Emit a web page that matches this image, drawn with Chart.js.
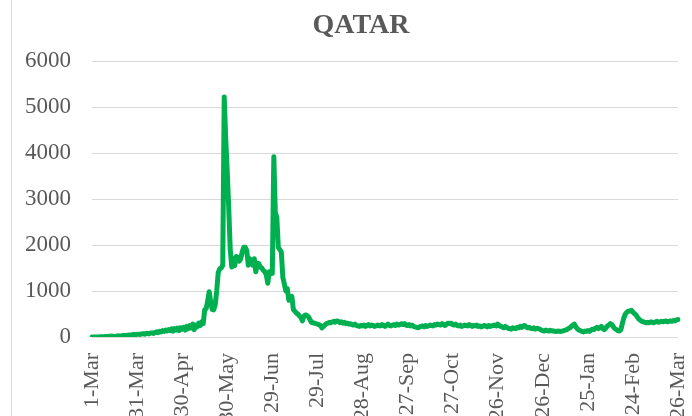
<!DOCTYPE html>
<html>
<head>
<meta charset="utf-8">
<script src="https://cdn.jsdelivr.net/npm/chart.js@4/dist/chart.umd.min.js"></script>
<style>
  html, body { margin: 0; padding: 0; background: #fff; overflow: hidden; }
  #wrap { position: relative; width: 692px; height: 416px; }
  #edge { position: absolute; left: 11px; top: 0; width: 1px; height: 416px; background: #d9d9d9; }
  #title {
    position: absolute; left: 261px; top: 10px; width: 200px;
    text-align: center; line-height: 1;
    font-family: 'Times New Roman', 'Liberation Serif', serif;
    font-size: 28px; font-weight: bold; color: #595959;
  }
</style>
</head>
<body>
<div id="wrap">
  <canvas id="chart" width="692" height="416"></canvas>
  <div id="edge"></div>
  <div id="title">QATAR</div>
</div>
<script>
// daily new cases, 1-Mar-2020 .. 26-Mar-2021
const startDate = [2020, 2, 1];
const tickLabels = ['1-Mar', '31-Mar', '30-Apr', '30-May', '29-Jun', '29-Jul', '28-Aug',
    '27-Sep', '27-Oct', '26-Nov', '26-Dec', '25-Jan', '24-Feb', '26-Mar'];
const cases = [
    0, 0, 0, 1, 2, 3, 5, 7, 8, 10,
    12, 14, 17, 20, 15, 12, 18, 22, 25, 20,
    28, 32, 35, 30, 40, 45, 38, 50, 55, 48,
    58, 62, 55, 68, 72, 60, 75, 80, 70, 85,
    90, 78, 100, 115, 95, 125, 110, 140, 120, 150,
    130, 160, 140, 175, 130, 180, 150, 195, 140, 200,
    170, 210, 150, 230, 180, 250, 200, 280, 160, 260,
    220, 300, 250, 330, 290, 590, 620, 780, 985, 760,
    600, 590, 700, 1000, 1400, 1480, 1500, 1560, 5220, 4300,
    3600, 2800, 1900, 1520, 1700, 1550, 1750, 1730, 1650, 1700,
    1850, 1950, 1950, 1880, 1560, 1700, 1650, 1560, 1700, 1420,
    1600, 1600, 1520, 1500, 1450, 1420, 1350, 1170, 1420, 1380,
    1380, 3920, 2700, 2600, 1950, 1900, 1850, 1300, 1150, 1000,
    1050, 800, 850, 880, 600, 560, 520, 500, 460, 430,
    350, 450, 480, 470, 440, 380, 320, 310, 300, 290,
    280, 270, 250, 200, 230, 260, 290, 300, 320, 310,
    330, 340, 320, 350, 340, 310, 330, 300, 320, 290,
    300, 280, 290, 270, 260, 280, 250, 240, 230, 250,
    240, 260, 230, 250, 270, 240, 260, 250, 230, 240,
    260, 250, 240, 270, 250, 230, 260, 280, 250, 240,
    260, 270, 250, 280, 260, 270, 290, 270, 290, 260,
    250, 270, 240, 260, 230, 220, 210, 200, 220, 230,
    240, 220, 250, 230, 240, 260, 250, 240, 270, 260,
    280, 270, 260, 290, 270, 250, 280, 300, 290, 300,
    270, 260, 280, 250, 240, 260, 230, 240, 260, 250,
    240, 270, 250, 230, 250, 240, 260, 230, 240, 220,
    230, 250, 240, 220, 250, 230, 240, 250, 260, 240,
    280, 250, 230, 220, 200, 230, 210, 190, 180, 170,
    200, 190, 180, 210, 200, 230, 210, 240, 250, 220,
    200, 210, 190, 180, 200, 170, 190, 180, 170, 150,
    140, 130, 150, 140, 130, 145, 135, 130, 125, 120,
    130, 125, 120, 130, 140, 150, 160, 180, 200, 230,
    260, 280, 220, 180, 150, 140, 120, 110, 130, 120,
    140, 120, 150, 170, 160, 190, 210, 180, 200, 230,
    180, 160, 200, 240, 260, 290, 270, 220, 180, 160,
    140, 130, 160, 300, 420, 500, 540, 560, 570, 580,
    540, 510, 480, 430, 390, 360, 340, 330, 320, 310,
    320, 310, 330, 320, 310, 330, 340, 320, 330, 340,
    330, 340, 350, 330, 340, 350, 340, 360, 350, 370,
    380
];

const months = ['Jan', 'Feb', 'Mar', 'Apr', 'May', 'Jun', 'Jul', 'Aug', 'Sep', 'Oct', 'Nov', 'Dec'];
const labels = cases.map((v, i) => {
    const d = new Date(startDate[0], startDate[1], startDate[2] + i);
    return d.getDate() + '-' + months[d.getMonth()];
});

const grey = '#595959';
const serif = "'Times New Roman', 'Liberation Serif', serif";

new Chart(document.getElementById('chart'), {
    type: 'line',
    data: {
        labels: labels,
        datasets: [{
            label: 'QATAR',
            data: cases,
            borderColor: '#00b050',
            backgroundColor: '#00b050',
            borderWidth: 5,
            pointRadius: 0,
            tension: 0,
            borderJoinStyle: 'round',
            borderCapStyle: 'round'
        }]
    },
    options: {
        responsive: false,
        animation: false,
        devicePixelRatio: 1,
        layout: { padding: { left: 0, right: 14, top: 61, bottom: 0 } },
        plugins: {
            legend: { display: false },
            tooltip: { enabled: false },
            title: { display: false }
        },
        scales: {
            x: {
                type: 'category',
                offset: false,
                grid: { display: false },
                border: { display: false },
                ticks: {
                    autoSkip: false,
                    maxRotation: 90,
                    minRotation: 90,
                    padding: 8,
                    color: grey,
                    font: { family: serif, size: 22 },
                    callback: (val, i) => i % 30 === 0 ? tickLabels[i / 30] : ''
                },
                afterFit: scale => {
                    scale.height = 79;
                    scale.paddingLeft = 0;
                    scale.paddingRight = 0;
                }
            },
            y: {
                min: 0,
                max: 6000,
                grid: { color: '#d9d9d9', lineWidth: 1, drawTicks: false },
                border: { display: false },
                ticks: {
                    stepSize: 1000,
                    padding: 21,
                    color: grey,
                    font: { family: serif, size: 23 },
                    callback: v => String(v)
                },
                afterFit: scale => {
                    scale.width = 92;
                    scale.paddingTop = 0;
                    scale.paddingBottom = 0;
                }
            }
        }
    }
});
</script>
</body>
</html>
